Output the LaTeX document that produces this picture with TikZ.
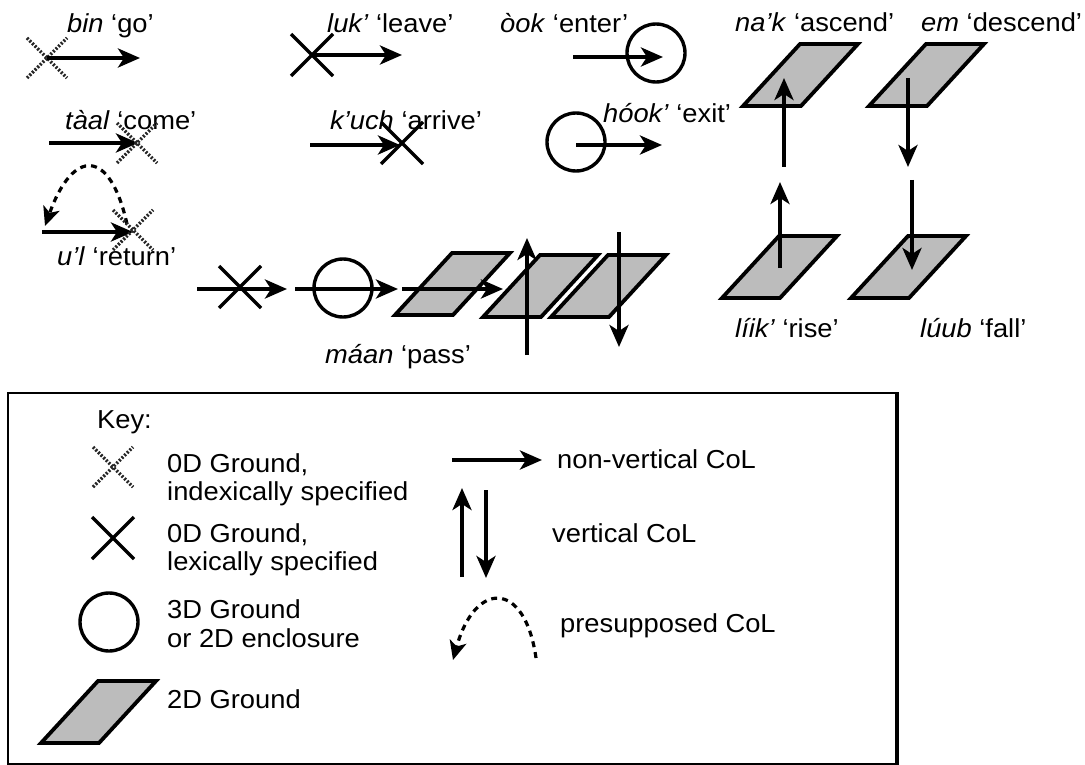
\documentclass[tikz,border=0pt]{standalone}
\usepackage{fontspec}
\setmainfont{Liberation Sans}[FakeStretch=1.05]
\usetikzlibrary{arrows.meta}
\definecolor{planegray}{RGB}{188,188,188}
\begin{document}
\begin{tikzpicture}[x=1pt,y=-1pt,
  col/.style={line width=4pt, -{Stealth[length=22pt,width=19pt,inset=6pt]}},
  presup/.style={line width=3.2pt, dash pattern=on 6pt off 5pt, -{Stealth[length=19pt,width=17pt,inset=5pt]}},
  gx/.style={line width=3.4pt, dash pattern=on 2pt off 1.7pt, black!85},
  lx/.style={line width=3.2pt},
  ring/.style={circle, draw, line width=3.4pt, minimum size=58pt, inner sep=0pt},
  plane/.style={line width=3.8pt, fill=planegray, line join=miter},
  lbl/.style={anchor=base west, inner sep=0pt, font=\fontsize{26}{29}\selectfont},
  dotx/.pic={\draw[gx] (-20,-20)--(20,20) (-20,20)--(20,-20);},
  solx/.pic={\draw[lx] (-21,-21)--(21,21) (-21,21)--(21,-21);},
  planepic/.pic={\draw[plane] (0,0)--(58,0)--(115,-62)--(57,-62)--cycle;}
]
\path[use as bounding box, fill=white] (0,0) rectangle (1085,765);

% ---- bin 'go'
\node[lbl] (bin) at (67,33) {\textit{bin} ‘go’};
\pic (binx) at (47,58) {dotx};
\coordinate (binA) at (47,58); \coordinate (binB) at (140,58);
\draw[col] (binA) -- (binB);

% ---- luk' 'leave'
\node[lbl] (luk) at (327,33) {\textit{luk’} ‘leave’};
\pic (lukx) at (312,55) {solx};
\coordinate (lukA) at (312,55); \coordinate (lukB) at (402,55);
\draw[col] (lukA) -- (lukB);

% ---- òok 'enter'
\node[lbl] (ook) at (500,33) {\textit{òok} ‘enter’};
\node[ring] (ookc) at (656,53) {};
\coordinate (ookA) at (573,57); \coordinate (ookB) at (663,57);
\draw[col] (ookA) -- (ookB);

% ---- tàal 'come'
\node[lbl] (taal) at (65,130) {\textit{tàal} ‘come’};
\coordinate (taalA) at (49,143); \coordinate (taalB) at (138,143);
\draw[col] (taalA) -- (taalB);
\pic (taalx) at (137,143) {dotx};

% ---- k'uch 'arrive'
\node[lbl] (kuch) at (330,130) {\textit{k’uch} ‘arrive’};
\coordinate (kuchA) at (310,145); \coordinate (kuchB) at (400,145);
\draw[col] (kuchA) -- (kuchB);
\pic (kuchx) at (402,143) {solx};

% ---- hóok' 'exit'
\node[lbl] (hook) at (603,123) {\textit{hóok’} ‘exit’};
\node[ring] (hookc) at (576,142) {};
\coordinate (hookA) at (576,145); \coordinate (hookB) at (662,145);
\draw[col] (hookA) -- (hookB);

% ---- u'l 'return'
\node[lbl] (ul) at (57,265) {\textit{u’l} ‘return’};
\coordinate (ulA) at (42,232); \coordinate (ulB) at (133,232);
\coordinate (ulC) at (127,224); \coordinate (ulD) at (45,226);
\draw[col] (ulA) -- (ulB);
\draw[presup] (ulC) .. controls (110,148) and (73,148) .. (ulD);
\pic (ulx) at (133,230) {dotx};

% ---- na'k 'ascend' / em 'descend'
\node[lbl] (nak) at (735,32) {\textit{na’k} ‘ascend’};
\node[lbl] (em) at (921,32) {\textit{em} ‘descend’};
\pic (nakp) at (743,106) {planepic};
\coordinate (nakA) at (784,167); \coordinate (nakB) at (784,78);
\draw[col] (nakA) -- (nakB);
\pic (emp) at (869,106) {planepic};
\coordinate (emA) at (908,78); \coordinate (emB) at (908,167);
\draw[col] (emA) -- (emB);

% ---- líik' 'rise' / lúub 'fall'
\pic (liikp) at (722,298) {planepic};
\coordinate (liikA) at (780,268); \coordinate (liikB) at (780,182);
\draw[col] (liikA) -- (liikB);
\pic (luubp) at (851,298) {planepic};
\coordinate (luubA) at (912,180); \coordinate (luubB) at (912,270);
\draw[col] (luubA) -- (luubB);
\node[lbl] (liik) at (735,337) {\textit{líik’} ‘rise’};
\node[lbl] (luub) at (920,337) {\textit{lúub} ‘fall’};

% ---- máan 'pass'
\pic (m1x) at (240,287) {solx};
\coordinate (m1A) at (197,289); \coordinate (m1B) at (287,289);
\draw[col] (m1A) -- (m1B);
\node[ring] (m2c) at (343,288) {};
\coordinate (m2A) at (295,289); \coordinate (m2B) at (398,289);
\draw[col] (m2A) -- (m2B);
\pic (mp1) at (395,315) {planepic};
\coordinate (m3A) at (402,289); \coordinate (m3B) at (503,289);
\draw[col] (m3A) -- (m3B);
\pic (mp2) at (483,317) {planepic};
\coordinate (m4A) at (527,355); \coordinate (m4B) at (527,238);
\draw[col] (m4A) -- (m4B);
\pic (mp3) at (551,317) {planepic};
\coordinate (m5A) at (619,232); \coordinate (m5B) at (619,347);
\draw[col] (m5A) -- (m5B);
\node[lbl] (maan) at (325,363) {\textit{máan} ‘pass’};

% ---- Key box
\node[draw, line width=2pt, minimum width=888pt, minimum height=371pt, inner sep=0pt, anchor=north west] (keybox) at (7,392) {};
\draw[line width=3pt] (keybox.north east) -- (keybox.south east);
\node[lbl] (keyt) at (97,428) {Key:};
\pic (kdx) at (113,467) {dotx};
\node[lbl] (k1a) at (167,472) {0D Ground,};
\node[lbl] (k1b) at (167,500) {indexically specified};
\pic (ksx) at (113,538) {solx};
\node[lbl] (k2a) at (167,542) {0D Ground,};
\node[lbl] (k2b) at (167,570) {lexically specified};
\node[ring] (kc) at (109,622) {};
\node[lbl] (k3a) at (167,618) {3D Ground};
\node[lbl] (k3b) at (167,647) {or 2D enclosure};
\pic (kp) at (41,743) {planepic};
\node[lbl] (k4) at (167,708) {2D Ground};

\coordinate (kaA) at (452,460); \coordinate (kaB) at (542,460);
\draw[col] (kaA) -- (kaB);
\node[lbl] (k5) at (557,468) {non-vertical CoL};
\coordinate (kuA) at (462,577); \coordinate (kuB) at (462,488);
\draw[col] (kuA) -- (kuB);
\coordinate (kdA) at (486,490); \coordinate (kdB) at (486,578);
\draw[col] (kdA) -- (kdB);
\node[lbl] (k6) at (552,542) {vertical CoL};
\coordinate (kpA) at (536,658); \coordinate (kpB) at (453,660);
\draw[presup] (kpA) .. controls (525,580) and (475,580) .. (kpB);
\node[lbl] (k7) at (560,632) {presupposed CoL};
\end{tikzpicture}
\end{document}
